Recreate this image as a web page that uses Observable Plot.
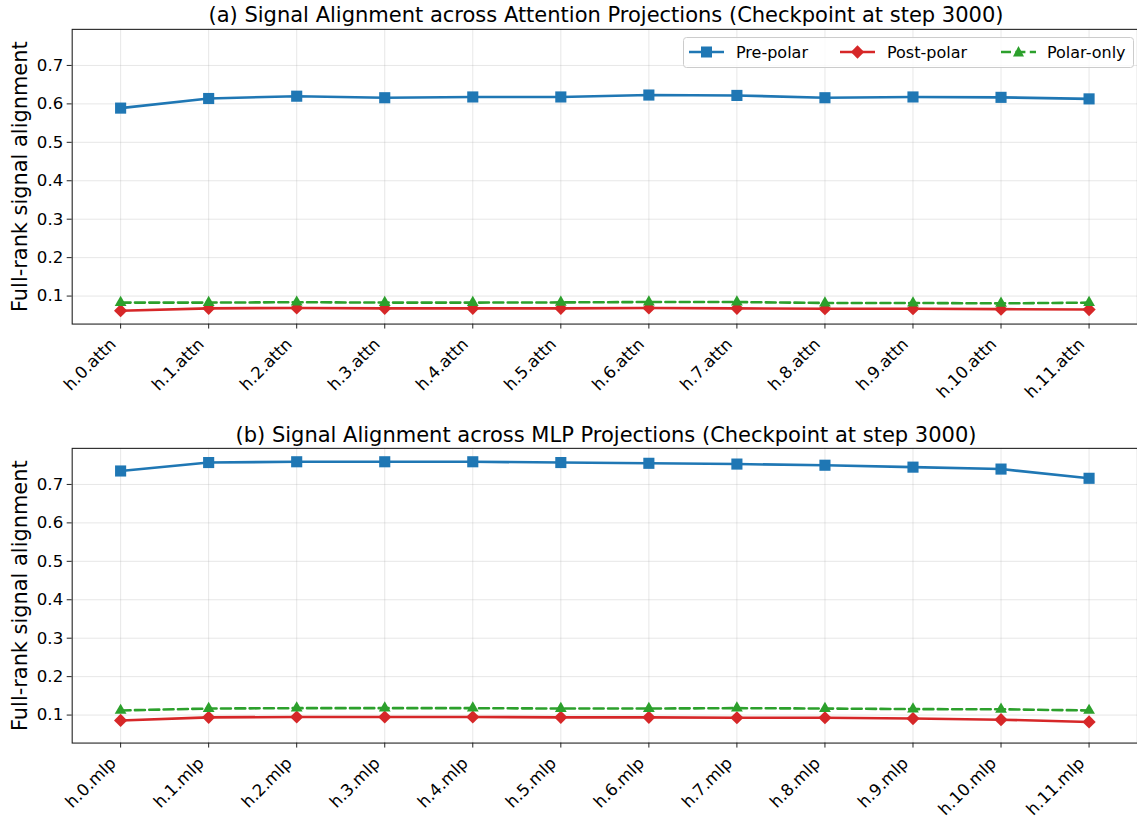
<!DOCTYPE html>
<html><head><meta charset="utf-8">
<script src="https://cdn.jsdelivr.net/npm/d3@7"></script>
<script src="https://cdn.jsdelivr.net/npm/@observablehq/plot@0.6"></script>
<style>
html,body{margin:0;padding:0;background:#fff;}
body{width:1137px;height:821px;overflow:hidden;font-family:"DejaVu Sans",sans-serif;}
#wrap{position:relative;width:1137px;height:821px;overflow:hidden;}
.title{position:absolute;font-size:21px;color:#000;white-space:nowrap;transform:translate(-50%,-50%);line-height:1;}
.panel{position:absolute;left:0;}
#legend{position:absolute;}
</style></head><body><div id="wrap"></div>
<script>
// ---- data ----
const attnLayers = ["h.0.attn","h.1.attn","h.2.attn","h.3.attn","h.4.attn","h.5.attn","h.6.attn","h.7.attn","h.8.attn","h.9.attn","h.10.attn","h.11.attn"];
const mlpLayers  = ["h.0.mlp","h.1.mlp","h.2.mlp","h.3.mlp","h.4.mlp","h.5.mlp","h.6.mlp","h.7.mlp","h.8.mlp","h.9.mlp","h.10.mlp","h.11.mlp"];
const attnPre   = [0.589, 0.614, 0.620, 0.616, 0.618, 0.618, 0.623, 0.622, 0.616, 0.618, 0.617, 0.613];
const attnPost  = [0.062, 0.068, 0.069, 0.068, 0.068, 0.068, 0.069, 0.068, 0.067, 0.067, 0.066, 0.065];
const attnPolar = [0.083, 0.083, 0.084, 0.083, 0.083, 0.0835, 0.0845, 0.0845, 0.082, 0.082, 0.081, 0.083];
const mlpPre    = [0.735, 0.757, 0.759, 0.759, 0.759, 0.757, 0.755, 0.753, 0.750, 0.745, 0.740, 0.716];
const mlpPost   = [0.086, 0.094, 0.095, 0.095, 0.095, 0.094, 0.094, 0.093, 0.093, 0.091, 0.088, 0.082];
const mlpPolar  = [0.112, 0.117, 0.118, 0.118, 0.118, 0.117, 0.117, 0.118, 0.117, 0.1155, 0.115, 0.112];
const seriesNames = ["Pre-polar","Post-polar","Polar-only"];
const seriesColors = ["#1f77b4","#d62728","#2ca02c"];
const yTicks = [0.1, 0.2, 0.3, 0.4, 0.5, 0.6, 0.7];
const titles = [
  "(a) Signal Alignment across Attention Projections (Checkpoint at step 3000)",
  "(b) Signal Alignment across MLP Projections (Checkpoint at step 3000)"
];
const yLabel = "Full-rank signal alignment";

// shared y range with matplotlib-like 5% margins
const allVals = [...attnPre,...attnPost,...attnPolar,...mlpPre,...mlpPost,...mlpPolar];
const vmin = d3.min(allVals), vmax = d3.max(allVals);
const pad = (vmax - vmin) * 0.05;
const yDomain = [vmin - pad, vmax + pad];

const W = 1142; // axes right spine sits just outside the 1137 window
const wrap = document.getElementById("wrap");
const LW = 2.6;          // line width
const DASH = "10,4.4";   // dashed pattern

function makePanel(layers, pre, post, polar, top, height, bottomMargin) {
  const rows = (vals) => layers.map((l, i) => ({layer: l, value: vals[i]}));
  const dPre = rows(pre), dPost = rows(post), dPolar = rows(polar);
  const grid = {stroke: "#b0b0b0", strokeOpacity: 0.3, strokeWidth: 1};
  const chart = Plot.plot({
    width: W, height,
    marginTop: 29, marginBottom: bottomMargin, marginLeft: 72, marginRight: 0,
    style: {fontFamily: "DejaVu Sans, sans-serif", fontSize: "16.7px", color: "#000", background: "transparent", overflow: "visible"},
    x: {type: "point", domain: layers, padding: 0.55, align: 0.5, round: false, label: null},
    y: {type: "linear", domain: yDomain, label: null},
    marks: [
      Plot.gridX(layers, grid),
      Plot.gridY(yTicks, grid),
      Plot.axisY(yTicks, {tickSize: 5, tickPadding: 4, tickFormat: d => d.toFixed(1), fontSize: 16.7, label: null, stroke: "#222"}),
      Plot.axisX(layers, {tickSize: 5, tickFormat: () => "", label: null, stroke: "#222"}),
      Plot.text(layers, {x: d => d, text: d => d, frameAnchor: "bottom", dx: -7.5, dy: 17.5, rotate: -45, textAnchor: "end", lineAnchor: "middle", fontSize: 16.7, fill: "#000"}),
      Plot.line(dPre, {x: "layer", y: "value", stroke: seriesColors[0], strokeWidth: LW}),
      Plot.dot(dPre, {x: "layer", y: "value", symbol: "square", r: 6.3, fill: seriesColors[0], stroke: null}),
      Plot.line(dPost, {x: "layer", y: "value", stroke: seriesColors[1], strokeWidth: LW}),
      Plot.dot(dPost, {x: "layer", y: "value", symbol: "square", r: 5.3, rotate: 45, fill: seriesColors[1], stroke: null}),
      Plot.line(dPolar, {x: "layer", y: "value", stroke: seriesColors[2], strokeWidth: LW, strokeDasharray: DASH}),
      Plot.dot(dPolar, {x: "layer", y: "value", symbol: "triangle", r: 4.4, fill: seriesColors[2], stroke: null}),
      Plot.frame({stroke: "#222", strokeWidth: 1.1}),
      Plot.text([yLabel], {frameAnchor: "left", dx: -52, rotate: -90, fontSize: 21, fill: "#000", textAnchor: "middle", lineAnchor: "middle"})
    ]
  });
  chart.querySelectorAll("text").forEach(t => {
    const isLabel = t.textContent === yLabel;
    t.style.fontSize = isLabel ? "21px" : "16.7px";
    t.style.fontFamily = "DejaVu Sans, sans-serif";
    t.style.fill = "#000";
  });
  chart.classList.add("panel");
  chart.style.top = top + "px";
  wrap.appendChild(chart);
}

makePanel(attnLayers, attnPre, attnPost, attnPolar, 0, 419, 94);
makePanel(mlpLayers, mlpPre, mlpPost, mlpPolar, 419, 402, 77);

// titles
const titlePos = [[606, 15], [606, 435]];
titles.forEach((t, i) => {
  const d = document.createElement("div");
  d.className = "title";
  d.textContent = t;
  d.style.left = titlePos[i][0] + "px";
  d.style.top = titlePos[i][1] + "px";
  wrap.appendChild(d);
});

// legend (inside panel a, upper right)
const ns = "http://www.w3.org/2000/svg";
const lg = document.createElementNS(ns, "svg");
lg.setAttribute("id", "legend");
lg.setAttribute("width", 452); lg.setAttribute("height", 32);
lg.style.left = "683px"; lg.style.top = "37px";
lg.style.position = "absolute";
let html = `<rect x="0.5" y="0.5" width="450" height="30" rx="3" fill="#fff" fill-opacity="0.8" stroke="#cccccc" stroke-width="1"/>`;
const handleX = [6, 157, 318];
const textX = [53, 204, 364];
const cy = 15;
seriesNames.forEach((name, i) => {
  const c = seriesColors[i];
  const x0 = handleX[i], x1 = x0 + 35, xm = x0 + 17.5;
  const dash = i === 2 ? ` stroke-dasharray="${DASH}"` : "";
  html += `<line x1="${x0}" x2="${x1}" y1="${cy}" y2="${cy}" stroke="${c}" stroke-width="${LW}"${dash}/>`;
  if (i === 0) html += `<rect x="${xm-5.5}" y="${cy-5.5}" width="11" height="11" fill="${c}"/>`;
  if (i === 1) html += `<rect x="${xm-4.7}" y="${cy-4.7}" width="9.4" height="9.4" fill="${c}" transform="rotate(45 ${xm} ${cy})"/>`;
  if (i === 2) html += `<path d="M${xm},${cy-6}L${xm+5.5},${cy+4.5}L${xm-5.5},${cy+4.5}Z" fill="${c}"/>`;
  html += `<text x="${textX[i]}" y="${cy}" dy="0.35em" font-size="16" font-family="DejaVu Sans, sans-serif" fill="#000">${name}</text>`;
});
lg.innerHTML = html;
wrap.appendChild(lg);
</script>
</body></html>
